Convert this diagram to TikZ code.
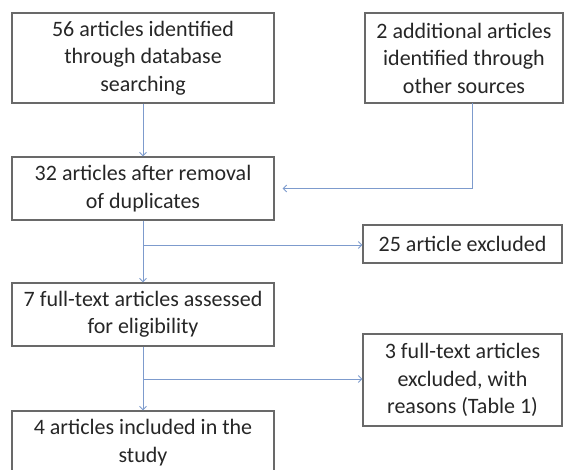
\documentclass[tikz,border=0pt]{standalone}
\usepackage{fontspec}
\setmainfont{Carlito}
\usetikzlibrary{arrows.meta}

\definecolor{linkblue}{RGB}{125,155,205}
\definecolor{boxgray}{RGB}{105,105,105}

\begin{document}
\begin{tikzpicture}[x=1pt, y=-1pt, >={Straight Barb[length=3.5pt,width=7pt]}, font=\fontsize{22}{27.5}\selectfont]

\tikzset{
  flowbox/.style={draw=boxgray, line width=1.2pt, align=center, inner sep=0pt, text=black!85},
  link/.style={draw=linkblue, line width=0.9pt}
}

\clip (0,0) rectangle (565,470);
\useasboundingbox (0,0) rectangle (565,470);

% boxes
\node[flowbox, minimum width=262, minimum height=90] (search) at (143,58) {56 articles identified\\through database\\searching};
\node[flowbox, minimum width=198, minimum height=90] (other) at (464,58) {2 additional articles\\identified through\\other sources};
\node[flowbox, minimum width=262, minimum height=63] (dedup) at (143,188.5) {32 articles after removal\\of duplicates};
\node[flowbox, minimum width=199, minimum height=38] (excl) at (462.5,244) {25 article excluded};
\node[flowbox, minimum width=262, minimum height=63] (elig) at (143,314.5) {7 full-text articles assessed\\for eligibility};
\node[flowbox, minimum width=199, minimum height=92] (exclft) at (462.5,380) {3 full-text articles\\excluded, with\\reasons (Table 1)};
\node[flowbox, minimum width=262, minimum height=63] (incl) at (143,442.5) {4 articles included in the\\study};

\coordinate (otherdrop) at (472,103);
\coordinate (split1) at (143,245);
\coordinate (split2) at (143,379);

% connectors
\draw[link, ->] (search) -- (dedup);
\draw[link, ->, shorten >=8pt] (otherdrop) |- (dedup);
\draw[link, ->] (dedup) -- (elig);
\draw[link, ->] (split1) -- (split1 -| excl.west);
\draw[link, ->] (elig) -- (incl);
\draw[link, ->] (split2) -- (split2 -| exclft.west);

\end{tikzpicture}
\end{document}
